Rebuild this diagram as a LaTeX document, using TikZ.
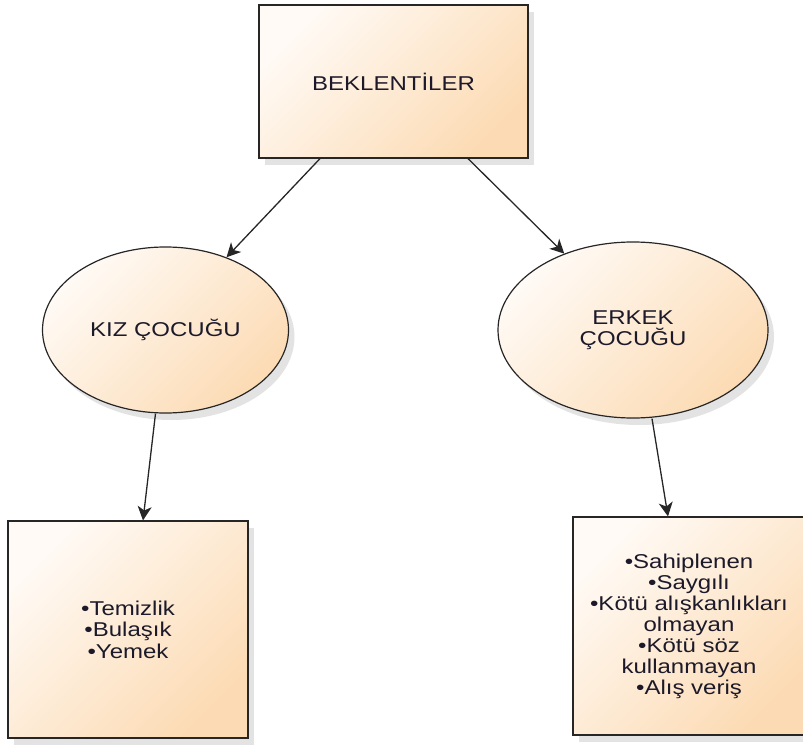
\documentclass[tikz,border=0pt]{standalone}
\usepackage{fontspec}
\setmainfont{Liberation Sans}[FakeStretch=1.2]
\usetikzlibrary{arrows.meta,shadows,calc,shapes.geometric}
\definecolor{peach}{HTML}{FCDBB4}
\definecolor{lightp}{HTML}{FFFAF5}
\definecolor{txt}{HTML}{1C1A2A}
\newcommand\mytightlines{\lineskiplimit=-50pt\relax\lineskip=0pt\relax}
\tikzset{
  shape fill/.style={draw=black!85, line width=1.2pt, shading=axis, top color=lightp, bottom color=peach, shading angle=45,
    drop shadow={shadow xshift=6pt, shadow yshift=-7pt, opacity=0.18, fill=black!60}, text=txt, align=center, inner sep=2pt},
  boxnode/.style={shape fill, rectangle},
  ovalnode/.style={shape fill, ellipse},
  arr/.style={draw=black!85, line width=1.3pt, -{Stealth[length=14pt,width=14pt,inset=4pt]}},
  txtsize/.style={font=\fontsize{20}{#1}\selectfont\mytightlines},
}
\begin{document}
\begin{tikzpicture}[x=1pt,y=-1pt]
\useasboundingbox (0,0) rectangle (803,749);
\node[boxnode, txtsize=21, minimum width=269pt, minimum height=153pt] (top) at (393.5,81.5) {BEKLENTİLER};
\node[ovalnode, txtsize=21, minimum width=246pt, minimum height=166pt] (kiz) at (165.5,330) {KIZ ÇOCUĞU};
\node[ovalnode, txtsize=20.5, minimum width=270pt, minimum height=176pt] (erkek) at (633,330) {ERKEK\\ÇOCUĞU};
\node[boxnode, txtsize=21.5, minimum width=240pt, minimum height=217pt] (kbox) at (128,629.5) {•Temizlik\\•Bulaşık\\•Yemek};
\node[boxnode, txtsize=21, minimum width=232pt, minimum height=218pt] (ebox) at (689,626)
  {•Sahiplenen\\•Saygılı\\•Kötü alışkanlıkları\\olmayan\\•Kötü söz\\kullanmayan\\•Alış veriş};
\draw[arr] ($(top.south)+(-73.5,0)$) -- (kiz.50);
\draw[arr] ($(top.south)+(74.5,0)$) -- (erkek.132);
\draw[arr] ($(kiz.south)+(-10,0)$) -- ($(kbox.north)+(15,0)$);
\draw[arr] ($(erkek.south)+(19,0)$) -- ($(ebox.north)+(-21,0)$);
\end{tikzpicture}
\end{document}
